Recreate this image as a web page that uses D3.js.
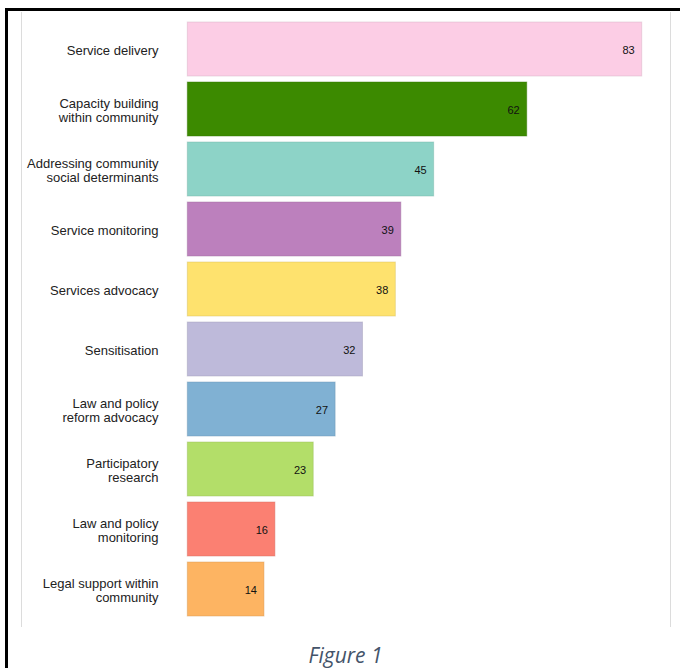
<!DOCTYPE html>
<html>
<head>
<meta charset="utf-8">
<script src="https://cdn.jsdelivr.net/npm/d3@7"></script>
<style>
  body { margin: 0; background: #fff; }
  svg { display: block; }
</style>
</head>
<body>
<div id="chart"></div>
<script>
var categories = [
  "Service delivery",
  "Capacity building|within community",
  "Addressing community|social determinants",
  "Service monitoring",
  "Services advocacy",
  "Sensitisation",
  "Law and policy|reform advocacy",
  "Participatory|research",
  "Law and policy|monitoring",
  "Legal support within|community"
];
var values = [83, 62, 45, 39, 38, 32, 27, 23, 16, 14];
var colors = ["#fccde5", "#3c8a00", "#8dd3c7", "#bc80bd", "#fee26e",
              "#bebada", "#80b1d3", "#b3de69", "#fb8072", "#fdb462"];

var width = 680, height = 668;

var svg = d3.select("#chart")
            .append("svg")
            .attr("width", width)
            .attr("height", height);

// frame of the figure box
svg.append("rect").attr("x", 5).attr("y", 8).attr("width", 675).attr("height", 3).attr("fill", "#000");
svg.append("rect").attr("x", 5).attr("y", 8).attr("width", 3).attr("height", 660).attr("fill", "#000");

// light grey chart edges
svg.append("line").attr("x1", 21.5).attr("x2", 21.5).attr("y1", 12).attr("y2", 627)
   .attr("stroke", "#dcdcdc").attr("stroke-width", 1);
svg.append("line").attr("x1", 670.5).attr("x2", 670.5).attr("y1", 12).attr("y2", 627)
   .attr("stroke", "#dcdcdc").attr("stroke-width", 1);

var x = d3.scaleLinear().domain([0, 83]).range([187.3, 641.7]);
var y = d3.scaleBand().domain(categories).range([19, 619]).paddingInner(0.1).paddingOuter(0.05);

var g = svg.append("g");

var rows = g.selectAll("g.row")
            .data(categories)
            .enter()
            .append("g")
            .attr("class", "row");

rows.append("rect")
    .attr("x", x(0))
    .attr("y", (d) => y(d))
    .attr("width", (d, i) => x(values[i]) - x(0))
    .attr("height", y.bandwidth())
    .attr("fill", (d, i) => colors[i])
    .attr("stroke", (d, i) => d3.color(colors[i]).darker(0.5))
    .attr("stroke-opacity", 0.45)
    .attr("stroke-width", 1);

rows.append("text")
    .attr("x", (d, i) => x(values[i]) - 7)
    .attr("y", (d) => y(d) + y.bandwidth() / 2 + 1.5)
    .attr("dy", "0.35em")
    .attr("text-anchor", "end")
    .attr("font-family", "Liberation Sans, Arial, sans-serif")
    .attr("font-size", 11)
    .attr("fill", "#111")
    .text((d, i) => values[i]);

rows.each(function(d) {
  var lines = d.split("|");
  var t = d3.select(this).append("text")
      .attr("text-anchor", "end")
      .attr("font-family", "Liberation Sans, Arial, sans-serif")
      .attr("font-size", 13)
      .attr("fill", "#222");
  var cy = y(d) + y.bandwidth() / 2 + 1.5;
  var top = cy - (lines.length - 1) * 7;
  lines.forEach(function(l, k) {
    t.append("tspan")
     .attr("x", 158.5)
     .attr("y", top + k * 14)
     .attr("dy", "0.35em")
     .text(l);
  });
});

svg.append("text")
   .attr("x", 345.5)
   .attr("y", 663)
   .attr("text-anchor", "middle")
   .attr("font-family", "Open Sans, sans-serif")
   .attr("font-style", "italic")
   .attr("font-size", 21)
   .attr("fill", "#44546a")
   .text("Figure 1");
</script>
</body>
</html>
